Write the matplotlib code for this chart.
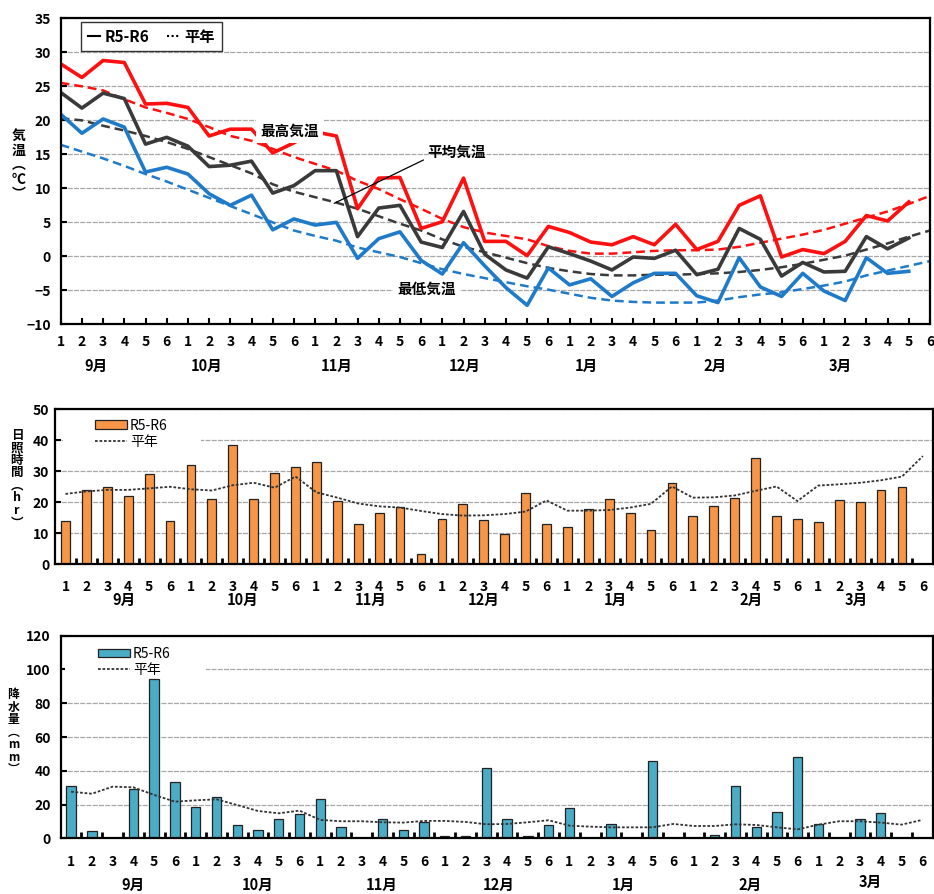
import numpy as np
import matplotlib
matplotlib.use("Agg")
import matplotlib.pyplot as plt
from matplotlib.lines import Line2D
from matplotlib.patches import Patch, Rectangle
import matplotlib.transforms as mtrans

plt.rcParams["font.family"] = ["Noto Sans CJK JP", "DejaVu Sans"]

WEEKS = ["1", "2", "3", "4", "5", "6"] * 7
MONTHS = ["9月", "10月", "11月", "12月", "1月", "2月", "3月"]

# 気温 (R5-R6, 9月1半旬 - 3月5半旬)
TEMP_MAX = [28.3, 26.3, 28.8, 28.5, 22.4, 22.5, 21.9, 17.7, 18.7, 18.7,
            15.2, 16.7, 18.3, 17.7, 7.0, 11.5, 11.6, 4.1, 5.1, 11.5,
            2.2, 2.2, 0.1, 4.4, 3.5, 2.1, 1.7, 2.9, 1.7, 4.7,
            1.0, 2.2, 7.5, 8.9, -0.1, 1.0, 0.4, 2.2, 6.0, 5.2, 8.0]
TEMP_MEAN = [24.1, 21.8, 24.0, 23.2, 16.5, 17.5, 16.2, 13.2, 13.4, 14.0,
             9.3, 10.4, 12.6, 12.6, 2.9, 7.1, 7.5, 2.1, 1.3, 6.6,
             0.3, -2.0, -3.2, 1.4, 0.4, -0.7, -2.0, -0.1, -0.3, 0.9,
             -2.7, -1.9, 4.1, 2.5, -2.9, -0.9, -2.3, -2.2, 2.9, 1.1, 2.7]
TEMP_MIN = [20.9, 18.1, 20.2, 19.0, 12.4, 13.1, 12.1, 9.2, 7.5, 9.0,
            3.9, 5.5, 4.6, 5.0, -0.3, 2.6, 3.6, -0.6, -2.6, 2.0,
            -1.4, -4.6, -7.2, -1.7, -4.2, -3.3, -5.9, -3.9, -2.5, -2.5,
            -5.8, -6.8, -0.2, -4.5, -5.9, -2.5, -5.1, -6.5, -0.2, -2.5, -2.2]

# 平年値
NORMAL_MAX = [25.5, 25.0, 24.4, 23.1, 21.9, 21.1, 20.2, 19.0, 17.7, 17.0,
              15.8, 14.6, 13.6, 12.6, 11.1, 9.9, 8.4, 7.0, 5.5, 4.3,
              3.5, 3.0, 2.5, 1.5, 0.8, 0.4, 0.4, 0.6, 0.8, 0.9,
              0.9, 1.0, 1.4, 2.0, 2.6, 3.2, 3.9, 4.8, 5.7, 6.6, 7.7, 8.9]
NORMAL_MEAN = [20.3, 20.0, 19.2, 18.5, 17.7, 16.8, 15.8, 14.6, 13.4, 12.2,
               10.6, 9.5, 8.7, 7.9, 7.0, 5.9, 4.8, 3.8, 2.5, 1.4,
               0.6, -0.2, -1.0, -1.7, -2.2, -2.6, -2.8, -2.8, -2.7, -2.7,
               -2.6, -2.5, -2.3, -2.0, -1.6, -1.1, -0.5, 0.1, 1.0, 1.9, 2.9, 3.8]
NORMAL_MIN = [16.4, 15.4, 14.4, 13.3, 12.1, 11.0, 9.8, 8.6, 7.4, 6.2,
              5.0, 3.8, 3.0, 2.3, 1.3, 0.6, -0.1, -1.0, -1.9, -2.6,
              -3.2, -3.8, -4.4, -4.9, -5.5, -6.1, -6.5, -6.7, -6.8, -6.8,
              -6.8, -6.5, -6.0, -5.6, -5.3, -4.8, -4.3, -3.7, -2.8, -2.1, -1.4, -0.7]

# 日照時間 (hr)
SUNSHINE = [14.0, 23.9, 24.9, 22.0, 29.1, 14.0, 32.0, 21.2, 38.5, 21.2,
            29.4, 31.5, 33.0, 20.4, 12.9, 16.6, 18.4, 3.3, 14.6, 19.4,
            14.3, 9.7, 23.0, 12.9, 12.0, 17.7, 21.2, 16.6, 11.1, 26.1,
            15.6, 18.8, 21.5, 34.2, 15.6, 14.7, 13.7, 20.8, 20.0, 23.9,
            24.9, np.nan]
SUNSHINE_NORMAL = [22.7, 23.5, 24.0, 24.0, 24.5, 25.0, 24.2, 23.8, 25.5, 26.3,
                   24.7, 28.3, 23.2, 21.5, 19.6, 18.7, 18.3, 17.2, 16.2, 15.7,
                   15.8, 16.2, 17.0, 20.6, 17.3, 17.3, 17.5, 18.3, 19.5, 25.1,
                   21.5, 21.6, 22.2, 23.7, 25.1, 20.4, 25.4, 25.8, 26.3, 27.1,
                   28.3, 34.9]

# 降水量 (mm)
PRECIP = [31.2, 4.5, 0, 29.0, 94.1, 33.2, 18.4, 24.7, 7.9, 5.1,
          11.4, 14.2, 23.3, 6.5, 0, 11.4, 4.9, 9.9, 1.4, 1.4,
          41.4, 11.2, 1.4, 7.7, 17.8, 0, 8.5, 0, 45.6, 0,
          0, 2.0, 30.8, 6.5, 15.6, 48.4, 8.5, 0, 11.2, 15.0, 0, 0]
PRECIP_NORMAL = [27.6, 26.4, 30.6, 30.2, 25.7, 21.7, 22.5, 23.1, 19.7, 16.2,
                 14.8, 16.4, 10.9, 10.1, 10.1, 9.5, 9.3, 10.3, 10.3, 9.7,
                 8.3, 8.5, 9.5, 10.7, 7.5, 6.9, 6.5, 6.5, 6.5, 8.5,
                 7.3, 7.3, 8.3, 7.9, 6.5, 5.3, 8.1, 10.1, 10.1, 9.3, 8.1, 10.9]

RED = "#ff1010"
DARK = "#3a3a3a"
BLUE = "#1f7bc9"
ORANGE = "#f79646"
TEAL = "#4bacc6"
GRID = "#a8a8a8"


def style_axes(ax):
    for sp in ax.spines.values():
        sp.set_linewidth(1.6)
        sp.set_color("black")
    ax.set_axisbelow(True)
    ax.grid(axis="y", color=GRID, linewidth=0.9, linestyle=(0, (4, 1)))
    ax.tick_params(axis="both", direction="in", labelsize=10, width=1.5, length=4)
    for lab in ax.get_xticklabels() + ax.get_yticklabels():
        lab.set_fontweight("bold")


def month_labels(ax, positions, y, extra=None):
    trans = mtrans.blended_transform_factory(ax.transData, ax.transAxes)
    for i, (m, p) in enumerate(zip(MONTHS, positions)):
        yy = y if extra is None else y + extra[i]
        ax.text(p, yy, m, transform=trans, ha="center", va="center",
                fontsize=10.5, fontweight="bold")


fig = plt.figure(figsize=(9.34, 8.94), dpi=100)

# ---------- 気温 ----------
ax1 = fig.add_axes([0.065, 0.6372, 0.9307, 0.3423])
x_all = np.arange(len(NORMAL_MAX))
x_obs = np.arange(len(TEMP_MAX))
ax1.plot(x_all, NORMAL_MAX, color=RED, lw=1.8, linestyle=(0, (3.5, 2)), zorder=2)
ax1.plot(x_all, NORMAL_MEAN, color=DARK, lw=1.8, linestyle=(0, (3.5, 2)), zorder=2)
ax1.plot(x_all, NORMAL_MIN, color=BLUE, lw=1.8, linestyle=(0, (3.5, 2)), zorder=2)
ax1.plot(x_obs, TEMP_MAX, color=RED, lw=2.6, zorder=2.2)
ax1.plot(x_obs, TEMP_MEAN, color=DARK, lw=2.6, zorder=2.2)
ax1.plot(x_obs, TEMP_MIN, color=BLUE, lw=2.6, zorder=2.2)
ax1.set_xlim(0, 41)
ax1.set_ylim(-10, 35)
ax1.set_yticks(range(-10, 36, 5))
ax1.set_xticks(x_all)
ax1.set_xticklabels(WEEKS)
style_axes(ax1)
ax1.tick_params(axis="x", pad=8)
ax1.tick_params(axis="y", pad=7)

box = dict(facecolor="white", edgecolor="none", pad=3)
ax1.text(10.8, 18.5, "最高気温", ha="center", va="center", fontsize=10.5,
         fontweight="bold", bbox=box, zorder=4)
ax1.text(17.25, -4.7, "最低気温", ha="center", va="center", fontsize=10.5,
         fontweight="bold", bbox=box, zorder=4)
ax1.annotate("平均気温", xy=(12.9, 7.8), xytext=(17.3, 15.4), ha="left",
             va="center", fontsize=10.5, fontweight="bold", zorder=4,
             arrowprops=dict(arrowstyle="-", color="black", lw=0.9,
                             shrinkA=1, shrinkB=0, relpos=(0, 0.1)))

leg1 = ax1.legend([Line2D([], [], color="black", lw=1.5),
                   Line2D([], [], color="black", lw=1.5, linestyle=(0, (1, 1.2)))],
                  ["R5-R6", "平年"], ncol=2, loc="upper left",
                  bbox_to_anchor=(0.015, 1.014), fancybox=False, framealpha=1,
                  edgecolor="#333333", handlelength=0.8, handletextpad=0.3,
                  columnspacing=1.15, borderpad=0.45,
                  prop={"size": 11, "weight": "bold"})
leg1.get_frame().set_linewidth(1.0)
month_labels(ax1, [1.65, 6.9, 13.0, 19.05, 24.8, 30.85, 36.75], -0.136)
fig.text(0.020, 0.815, "気\n温\n︵\n℃\n︶", ha="center", va="center",
         fontsize=10, fontweight="bold", linespacing=1.05)

# ---------- 日照時間 ----------
ax2 = fig.add_axes([0.0589, 0.3688, 0.9404, 0.1734])
xb = np.arange(len(SUNSHINE))
ax2.bar(xb, SUNSHINE, width=0.42, color=ORANGE, edgecolor="#222222",
        linewidth=0.9, zorder=2)
ax2.plot(xb, SUNSHINE_NORMAL, color="#333333", lw=1.3,
         linestyle=(0, (1.5, 1)), zorder=3)
ax2.add_patch(Rectangle((0.009, 0.74), 0.157, 0.24, transform=ax2.transAxes,
                        facecolor="white", edgecolor="none", zorder=1))
ax2.set_xlim(-0.5, 41.5)
ax2.set_ylim(0, 50)
ax2.set_yticks(range(0, 51, 10))
ax2.set_xticks(xb)
ax2.set_xticklabels(WEEKS)
ax2.set_xticks(xb[:-1] + 0.5, minor=True)
style_axes(ax2)
ax2.tick_params(axis="x", which="major", length=0, pad=11)
ax2.tick_params(axis="x", which="minor", direction="in", length=4, width=2)
ax2.tick_params(axis="y", pad=4)
ax2.legend([Patch(facecolor=ORANGE, edgecolor="#222222", linewidth=0.9),
            Line2D([], [], color="#333333", lw=1.3, linestyle=(0, (1.5, 1)))],
           ["R5-R6", "平年"], loc="upper left", bbox_to_anchor=(0.038, 0.985),
           frameon=False, handlelength=2.3, handleheight=0.55,
           handletextpad=0.2, labelspacing=0.15, borderpad=0, fontsize=10)
month_labels(ax2, [2.8, 8.45, 14.6, 20.0, 26.3, 32.8, 37.8], -0.23)
fig.text(0.018, 0.464, "日\n照\n時\n間\n︵\nh\nr\n︶", ha="center", va="center",
         fontsize=9, fontweight="bold", linespacing=0.95)

# ---------- 降水量 ----------
ax3 = fig.add_axes([0.065, 0.0623, 0.9336, 0.2266])
ax3.bar(xb, PRECIP, width=0.45, color=TEAL, edgecolor="#222222",
        linewidth=0.9, zorder=2)
ax3.plot(xb, PRECIP_NORMAL, color="#333333", lw=1.3,
         linestyle=(0, (1.5, 1)), zorder=3)
ax3.add_patch(Rectangle((0.005, 0.80), 0.162, 0.18, transform=ax3.transAxes,
                        facecolor="white", edgecolor="none", zorder=1))
ax3.set_xlim(-0.5, 41.5)
ax3.set_ylim(0, 120)
ax3.set_yticks(range(0, 121, 20))
ax3.set_xticks(xb)
ax3.set_xticklabels(WEEKS)
ax3.set_xticks(xb[:-1] + 0.5, minor=True)
style_axes(ax3)
ax3.tick_params(axis="x", which="major", length=0, pad=12)
ax3.tick_params(axis="x", which="minor", direction="in", length=4, width=2)
ax3.tick_params(axis="y", pad=7)
ax3.legend([Patch(facecolor=TEAL, edgecolor="#222222", linewidth=0.9),
            Line2D([], [], color="#333333", lw=1.3, linestyle=(0, (1.5, 1)))],
           ["R5-R6", "平年"], loc="upper left", bbox_to_anchor=(0.035, 0.98),
           frameon=False, handlelength=2.3, handleheight=0.55,
           handletextpad=0.2, labelspacing=0.15, borderpad=0, fontsize=10)
month_labels(ax3, [3.0, 9.0, 14.95, 20.6, 26.6, 32.7, 38.5], -0.23,
             extra=[0, 0, 0, 0, 0, 0, 0.015])
fig.text(0.0143, 0.181, "降\n水\n量\n︵\nm\nm\n︶", ha="center", va="center",
         fontsize=8.5, fontweight="bold", linespacing=0.95)

fig.savefig("out.png", dpi=100)
